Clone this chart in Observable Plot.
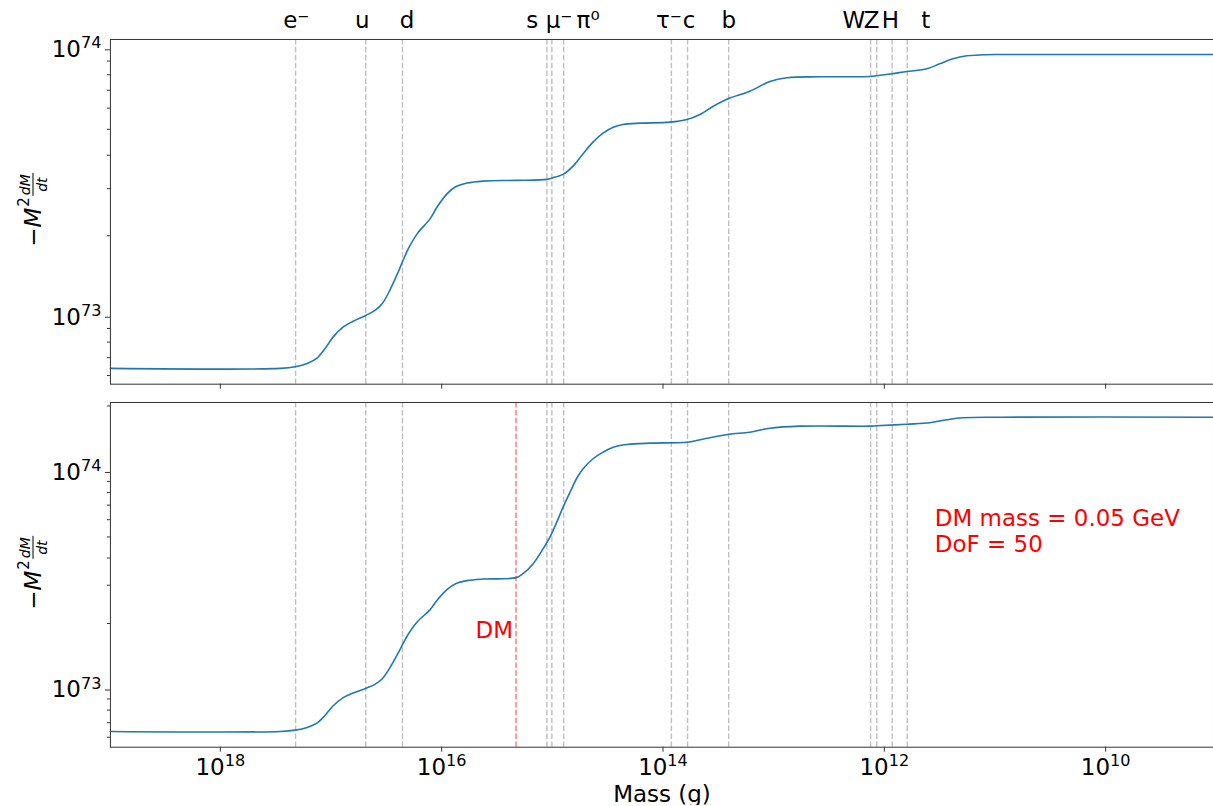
<!DOCTYPE html>
<html><head><meta charset="utf-8">
<script src="https://cdn.jsdelivr.net/npm/d3@7"></script>
<script src="https://cdn.jsdelivr.net/npm/@observablehq/plot@0.6"></script>
<style>
html,body{margin:0;padding:0;background:#fff;overflow:hidden;}
#wrap{position:relative;width:1213px;height:806px;overflow:hidden;font-family:"DejaVu Sans",sans-serif;}
#wrap svg{display:block;}
.ylab{position:absolute;transform:translate(-50%,-50%) rotate(-90deg);white-space:nowrap;font-size:23px;line-height:1;display:flex;align-items:center;color:#000;}
.ylab .it{font-style:italic;}
.ylab .sup{font-size:15px;position:relative;top:-9px;margin-left:1px;}
.ylab .frac{display:inline-flex;flex-direction:column;align-items:center;font-size:14px;font-style:italic;margin-left:1px;}
.ylab .frac .num{border-bottom:1px solid #000;padding:0 1px 1px 1px;}
.ylab .frac .den{padding-top:1px;}
</style></head><body><div id="wrap"></div>
<script>
// ---- data ----
const massTop = [9.85e18, 2.87e17, 2.10e17, 1.64e17, 1.33e17, 1.13e17, 9.55e16, 7.74e16, 6.30e16, 4.81e16,
  3.98e16, 3.44e16, 2.92e16, 2.47e16, 2.23e16, 2.00e16, 1.66e16, 1.27e16, 1.10e16, 8.91e15,
  7.55e15, 5.89e15, 4.22e15, 2.12e15, 1.11e15, 9.44e14, 8.00e14, 6.50e14, 5.27e14, 4.29e14,
  3.48e14, 2.82e14, 2.30e14, 1.61e14, 8.65e13, 6.07e13, 4.63e13, 3.54e13, 2.59e13, 1.64e13,
  1.08e13, 7.59e12, 3.82e12, 1.35e12, 1.17e12, 8.55e11, 6.27e11, 4.13e11, 3.16e11, 2.40e11,
  1.80e11, 1.29e11, 9.06e10, 1.06e9];
const rateTop = [6.38e72, 6.38e72, 6.47e72, 6.66e72, 6.99e72, 7.57e72, 8.37e72, 9.12e72, 9.58e72, 1.009e73,
  1.053e73, 1.115e73, 1.258e73, 1.464e73, 1.619e73, 1.790e73, 2.037e73, 2.317e73, 2.561e73, 2.873e73,
  3.041e73, 3.148e73, 3.202e73, 3.221e73, 3.249e73, 3.314e73, 3.391e73, 3.642e73, 4.054e73, 4.479e73,
  4.838e73, 5.094e73, 5.214e73, 5.273e73, 5.318e73, 5.443e73, 5.682e73, 6.088e73, 6.505e73, 6.944e73,
  7.55e73, 7.795e73, 7.862e73, 7.88e73, 7.93e73, 8.065e73, 8.227e73, 8.42e73, 8.79e73, 9.175e73,
  9.416e73, 9.497e73, 9.52e73, 9.52e73];

const massBottom = [9.85e18, 2.87e17, 2.10e17, 1.64e17, 1.33e17, 1.13e17, 9.55e16, 7.74e16, 6.30e16, 4.81e16,
  3.98e16, 3.44e16, 2.92e16, 2.47e16, 2.23e16, 2.00e16, 1.66e16, 1.27e16, 1.10e16, 8.91e15,
  7.55e15, 5.89e15, 4.22e15, 2.12e15, 1.84e15, 1.49e15, 1.21e15, 1.05e15, 9.06e14, 8.00e14,
  6.92e14, 5.98e14, 5.27e14, 4.29e14, 3.48e14, 2.82e14, 2.11e14, 1.31e14, 6.07e13, 4.63e13,
  2.59e13, 1.64e13, 1.08e13, 5.79e12, 1.35e12, 1.17e12, 6.27e11, 3.88e11, 2.73e11, 1.95e11,
  9.06e10, 1.06e9];
const rateBottom = [6.38e72, 6.38e72, 6.47e72, 6.66e72, 6.99e72, 7.57e72, 8.37e72, 9.12e72, 9.58e72, 1.009e73,
  1.053e73, 1.115e73, 1.258e73, 1.464e73, 1.619e73, 1.790e73, 2.037e73, 2.317e73, 2.561e73, 2.873e73,
  3.041e73, 3.148e73, 3.202e73, 3.25e73, 3.389e73, 3.767e73, 4.415e73, 4.992e73, 5.892e73, 6.855e73,
  8.034e73, 9.356e73, 1.029e74, 1.144e74, 1.227e74, 1.293e74, 1.330e74, 1.349e74, 1.363e74, 1.398e74,
  1.479e74, 1.515e74, 1.581e74, 1.615e74, 1.615e74, 1.622e74, 1.649e74, 1.674e74, 1.728e74, 1.765e74,
  1.776e74, 1.776e74];

const particles     = ["e⁻", "u", "d", "s", "μ⁻", "π⁰", "τ⁻", "c", "b", "W", "Z", "H", "t"];
const particleMass  = [2.09e17, 4.85e16, 2.26e16, 1.12e15, 1.01e15, 7.9e14, 8.4e13, 6.0e13, 2.55e13, 1.33e12, 1.17e12, 8.5e11, 6.2e11];
const labelMass     = [2.06e17, 5.22e16, 2.05e16, 1.52e15, 8.69e14, 4.75e14, 8.83e13, 5.82e13, 2.54e13, 1.88e12, 1.30e12, 8.79e11, 4.22e11];

const dmMass = 2.13e15;
const dmLabel = "DM";
const dmLabelY = 1.86e73;
const noteText = "DM mass = 0.05 GeV\nDoF = 50";
const noteMass = 3.5e11;
const noteY = 5.36e73;

const xDomain = [9.85e18, 1.06e9];
const yDomainTop = [5.57e72, 1.084e74];
const yDomainBottom = [5.40e72, 2.075e74];
const xTicks = [1e18, 1e16, 1e14, 1e12, 1e10];
const yTicks = [1e73, 1e74];
const yMinorTop = [6e72, 7e72, 8e72, 9e72, 2e73, 3e73, 4e73, 5e73, 6e73, 7e73, 8e73, 9e73];
const yMinorBottom = [6e72, 7e72, 8e72, 9e72, 2e73, 3e73, 4e73, 5e73, 6e73, 7e73, 8e73, 9e73, 2e74];
const xLabel = "Mass (g)";

// ---- build ----
const topData = massTop.map((m, i) => ({m, v: rateTop[i]}));
const botData = massBottom.map((m, i) => ({m, v: rateBottom[i]}));
const lbl = particles.map((p, i) => ({p, m: labelMass[i]}));
const expFmt = d => "10^" + Math.round(Math.log10(d));

const FS = 23;
const lineStyle = {x: "m", y: "v", stroke: "#1f77b4", strokeWidth: 1.6, curve: "catmull-rom"};
const gridStyle = {stroke: "gray", strokeOpacity: 0.5, strokeWidth: 1.4, strokeDasharray: "5.5,2.4"};
const spine = "#333";

function common(yMinor, showXLabels) {
  return [
    Plot.axisY({ticks: yMinor, tickSize: 3, tickFormat: () => "", label: null, stroke: spine}),
    Plot.axisY({ticks: yTicks, tickSize: 5, tickPadding: 4, tickFormat: expFmt, label: null, fontSize: FS, dy: 1, stroke: spine}),
    Plot.axisX({ticks: xTicks, tickSize: 5, tickPadding: 6, tickFormat: showXLabels ? expFmt : () => "", label: null, fontSize: FS, stroke: spine}),
    Plot.frame({stroke: spine, strokeWidth: 1})
  ];
}

const topPlot = Plot.plot({
  width: 1214, height: 392,
  marginLeft: 110, marginRight: 0, marginTop: 39, marginBottom: 8,
  x: {type: "log", domain: xDomain, label: null},
  y: {type: "log", domain: yDomainTop, label: null},
  style: {fontFamily: "DejaVu Sans, sans-serif", fontSize: FS + "px", color: "#000", background: "transparent"},
  marks: [
    Plot.ruleX(particleMass, gridStyle),
    Plot.line(topData, lineStyle),
    Plot.text(lbl, {x: "m", text: "p", frameAnchor: "top", lineAnchor: "middle", dy: -19, fontSize: FS, fill: "#000"}),
    ...common(yMinorTop, false)
  ]
});

const bottomPlot = Plot.plot({
  width: 1214, height: 414,
  marginLeft: 110, marginRight: 0, marginTop: 10, marginBottom: 59,
  x: {type: "log", domain: xDomain, label: null},
  y: {type: "log", domain: yDomainBottom, label: null},
  style: {fontFamily: "DejaVu Sans, sans-serif", fontSize: FS + "px", color: "#000", background: "transparent"},
  marks: [
    Plot.ruleX(particleMass, gridStyle),
    Plot.ruleX([dmMass], {stroke: "red", strokeOpacity: 0.55, strokeWidth: 1.4, strokeDasharray: "5.5,2.4"}),
    Plot.line(botData, lineStyle),
    Plot.text([dmLabel], {x: () => dmMass, y: () => dmLabelY, text: d => d, textAnchor: "end", dx: -3, fill: "red", fontSize: FS}),
    Plot.text([noteText], {x: () => noteMass, y: () => noteY, text: d => d, textAnchor: "start", fill: "red", fontSize: FS, lineHeight: 1.16}),
    Plot.text([xLabel], {frameAnchor: "bottom", lineAnchor: "middle", text: d => d, dy: 47, fontSize: FS, fill: "#000"}),
    ...common(yMinorBottom, true)
  ]
});

function superscripts(svg) {
  d3.select(svg).selectAll("text").each(function () {
    const t = this.textContent;
    const m = /^10\^(\d+)$/.exec(t);
    if (m) {
      this.textContent = "10";
      const ts = document.createElementNS("http://www.w3.org/2000/svg", "tspan");
      ts.setAttribute("dy", "-0.55em");
      ts.setAttribute("style", "font-size:70%");
      ts.textContent = m[1];
      this.appendChild(ts);
    }
  });
}
superscripts(topPlot);
superscripts(bottomPlot);

const wrap = document.getElementById("wrap");
wrap.appendChild(topPlot);
wrap.appendChild(bottomPlot);

function ylab(cy) {
  const d = document.createElement("div");
  d.className = "ylab";
  d.style.left = "33px";
  d.style.top = cy + "px";
  d.innerHTML = '<span>−</span><span class="it">M</span><span class="sup">2</span>' +
    '<span class="frac"><span class="num">dM</span><span class="den">dt</span></span>';
  wrap.appendChild(d);
}
ylab(210);
ylab(573);
</script>
</body></html>
